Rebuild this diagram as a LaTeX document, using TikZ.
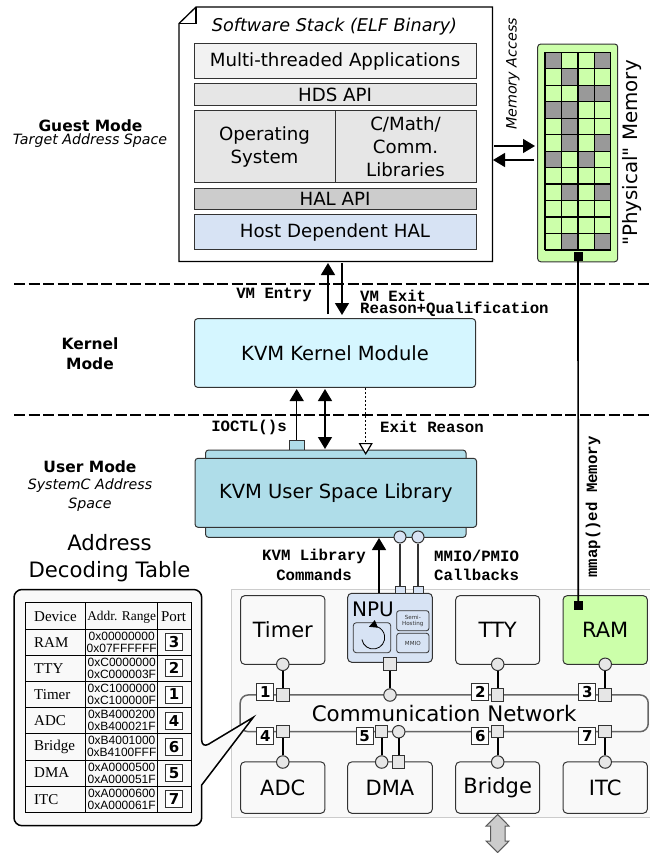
\documentclass[tikz,border=0pt]{standalone}
\usepackage{fontspec}
\setmainfont{DejaVu Sans}
\setmonofont{Liberation Mono}
\newfontfamily\plainfont{DejaVu Sans}
\newfontfamily\tablefont{Liberation Serif}
\newfontfamily\addrfont{Liberation Sans}
\usetikzlibrary{arrows.meta}
\definecolor{stackgrey}{HTML}{E6E6E6}
\definecolor{halgrey}{HTML}{CCCCCC}
\definecolor{appgrey}{HTML}{F2F2F2}
\definecolor{halblue}{HTML}{D7E3F4}
\definecolor{kernelblue}{HTML}{D5F6FF}
\definecolor{userblue}{HTML}{AFDDE9}
\definecolor{memgreen}{HTML}{CCFFAA}
\definecolor{memgrey}{HTML}{999999}
\definecolor{panelgrey}{HTML}{F9F9F9}
\definecolor{edgegrey}{HTML}{333333}
\newcommand{\bigfont}{\fontsize{18.2}{23}\selectfont}
\newcommand{\kvmfont}{\fontsize{19.5}{23}\selectfont}
\newcommand{\modfont}{\fontsize{21}{25}\selectfont}
\newcommand{\monofont}{\fontsize{15.7}{13}\selectfont\ttfamily\bfseries}
\tikzset{
  stackbox/.style={draw=edgegrey, line width=1pt, inner sep=0pt, font=\bigfont, align=center},
  modulebox/.style={draw=edgegrey, line width=1pt, rounded corners=4pt, inner sep=0pt, font=\modfont, fill=panelgrey},
  textlabel/.style={inner sep=0pt, align=center},
  monolabel/.style={inner sep=0pt, font=\monofont},
  portsquare/.style={draw=edgegrey, fill=stackgrey, line width=1pt, minimum size=12.5pt, inner sep=0pt},
  portcircle/.style={draw=edgegrey, fill=stackgrey, line width=1pt, circle, minimum size=12.5pt, inner sep=0pt},
  numbox/.style={draw=edgegrey, fill=white, line width=1pt, minimum size=17pt, inner sep=0pt, font=\fontsize{15}{15}\selectfont\bfseries},
  busline/.style={line width=1.6pt},
  bigarrow/.style={line width=1.3pt, -{Triangle[width=14pt,length=12pt]}},
  bothwayarrow/.style={line width=1.3pt, {Triangle[width=14pt,length=12pt]}-{Triangle[width=14pt,length=12pt]}},
  modedash/.style={line width=1.9pt, dash pattern=on 11pt off 3.5pt}
}
\begin{document}
\begin{tikzpicture}[x=1pt,y=-1pt]
\useasboundingbox (0,0) rectangle (649,853);
% MODE SEPARATORS
\coordinate (guest_left) at (14,284.3);
\coordinate (guest_right) at (649,284.3);
\coordinate (user_left) at (14,415);
\coordinate (user_right) at (649,415);
\draw[modedash] (guest_left) -- (guest_right);
\draw[modedash] (user_left) -- (user_right);
% TEXT
\node[textlabel, font=\fontsize{15.5}{15}\selectfont\bfseries] (guest_mode) at (90.5,126) {Guest Mode};
\node[textlabel, font=\fontsize{14.2}{14}\selectfont\itshape] (guest_space) at (90,141) {Target Address Space};
\node[textlabel, font=\fontsize{15.5}{19.5}\selectfont\bfseries] (kernel_mode) at (90,353.5) {Kernel\\Mode};
\node[textlabel, font=\fontsize{15.5}{15}\selectfont\bfseries] (user_mode) at (90,467) {User Mode};
\node[textlabel, font=\fontsize{14.2}{19}\selectfont\itshape] (user_space) at (90,495.5) {SystemC Address\\Space};
\node[textlabel, font=\fontsize{21.2}{27}\selectfont] (table_title) at (109.5,558.5) {Address\\Decoding Table};
\begin{scope} % Software stack
\draw[line width=1.3pt, fill=white]
(196,7) -- (492.5,7) -- (492.5,261.5) -- (179,261.5) -- (179,23.5) -- cycle;
\draw[line width=1.3pt] (179,23.5) -- (196,23.5) -- (196,7);
\node[textlabel, font=\fontsize{17.6}{18}\selectfont\itshape] (stack_title) at (334.5,27) {Software Stack (ELF Binary)};
\node[stackbox, fill=appgrey, minimum width=282pt, minimum height=35.5pt] (apps) at (335,61) {Multi-threaded Applications};
\node[stackbox, fill=stackgrey, minimum width=282pt, minimum height=22pt] (hds_api) at (335,94.5) {HDS API};
\node[stackbox, fill=stackgrey, minimum width=141pt, minimum height=72pt] (os) at (264.5,146.5) {Operating\\System};
\node[stackbox, fill=stackgrey, minimum width=141pt, minimum height=72pt] (libs) at (405.5,146.5) {C/Math/\\Comm.\\Libraries};
\node[stackbox, fill=halgrey, minimum width=282pt, minimum height=21pt] (hal_api) at (335,198.5) {HAL API};
\node[stackbox, fill=halblue, minimum width=282pt, minimum height=35.5pt] (host_hal) at (335,232) {Host Dependent HAL};
\end{scope}
\begin{scope} % Physical memory
\node[draw=edgegrey, line width=1pt, fill=memgreen, rounded corners=3pt, minimum width=80pt, minimum height=217.7pt, inner sep=0pt] (memory) at (577.7,152.9) {};
\foreach \r/\c in {0/0,0/3,1/1,2/2,2/3,3/0,3/1,4/1,5/1,5/3,6/0,6/2,8/1,8/3,11/1,11/3}
  \fill[memgrey] (545+16.45*\c,52.3+16.47*\r) rectangle (545+16.45*\c+16.45,52.3+16.47*\r+16.47);
\foreach \c in {0,...,4}
  \draw[line width=1.2pt] (545+16.45*\c,52.3) -- (545+16.45*\c,250);
\foreach \r in {0,...,12}
  \draw[line width=1.2pt] (545,52.3+16.47*\r) -- (610.8,52.3+16.47*\r);
\node[draw, fill=black, minimum size=8pt, inner sep=0pt] (mem_port) at (578,255.7) {};
\node[textlabel, rotate=90, font=\fontsize{19.8}{20}\selectfont\plainfont] (memory_label) at (632,153) {"Physical" Memory};
\node[textlabel, rotate=90, font=\fontsize{14.3}{14}\selectfont\itshape] (access_label) at (513,74) {Memory Access};
\end{scope}
% Memory access arrows
\coordinate (access_in_a) at (494,146);
\coordinate (access_in_b) at (535,146);
\coordinate (access_out_a) at (534,160);
\coordinate (access_out_b) at (493,160);
\draw[bigarrow] (access_in_a) -- (access_in_b);
\draw[bigarrow] (access_out_a) -- (access_out_b);
% KVM kernel
\node[draw=edgegrey, line width=1pt, fill=kernelblue, rounded corners=3pt, minimum width=281pt, minimum height=68.6pt, inner sep=0pt, font=\kvmfont] (kernel_module) at (335,353) {KVM Kernel Module};
\coordinate (entry_a) at (328,314);
\coordinate (entry_b) at (328,263);
\coordinate (exit_a) at (342,263);
\coordinate (exit_b) at (342,315);
\draw[bigarrow] (entry_a) -- (entry_b);
\draw[bigarrow] (exit_a) -- (exit_b);
\node[monolabel] (entry_label) at (274,295) {VM Entry};
\node[monolabel, anchor=west] (exit_label) at (360,295.5) {VM Exit};
\node[monolabel, anchor=west] (qualification_label) at (360,309.5) {Reason+Qualification};
\begin{scope} % KVM user space
\node[draw=edgegrey, line width=1pt, fill=userblue, minimum width=15pt, minimum height=10pt, inner sep=0pt] (ioctl_port) at (296.7,445.5) {};
\node[draw=edgegrey, line width=1pt, fill=userblue, rounded corners=3pt, minimum width=260.5pt, minimum height=87.3pt, inner sep=0pt] (user_back) at (335.8,493.7) {};
\node[draw=edgegrey, line width=1pt, fill=userblue, rounded corners=3pt, minimum width=281.5pt, minimum height=69pt, inner sep=0pt, font=\kvmfont] (user_lib) at (335.8,492.8) {KVM User Space Library};
\end{scope}
\coordinate (ioctl_top) at (296.7,389);
\coordinate (double_top) at (325,389);
\coordinate (double_bottom) at (325,449);
\coordinate (reason_top) at (365.7,388);
\coordinate (reason_bottom) at (365.7,455);
\draw[bigarrow] (ioctl_port) -- (ioctl_top);
\draw[bothwayarrow] (double_top) -- (double_bottom);
\draw[line width=1.2pt, dash pattern=on 2pt off 2pt, -{Triangle[open, fill=white, width=14pt, length=12pt]}] (reason_top) -- (reason_bottom);
\node[monolabel] (ioctl_label) at (249,427) {IOCTL()s};
\node[monolabel, anchor=west] (reason_label) at (380,427) {Exit Reason};
\node[monolabel, font=\monofont\fontsize{15.7}{20}\selectfont, align=center] (commands_label) at (314,565) {KVM Library\\Commands};
\node[monolabel, font=\monofont\fontsize{15.7}{19}\selectfont, anchor=west, align=left] (callbacks_label) at (434,565.5) {MMIO/PMIO\\Callbacks};
\begin{scope} % Platform
\draw[draw=halgrey, line width=1pt, fill=panelgrey] (231,589.7) rectangle (652,817.7);
\node[modulebox, minimum width=84.3pt, minimum height=68.6pt] (timer) at (282.8,630) {Timer};
\node[modulebox, fill=halblue, minimum width=84.6pt, minimum height=69pt] (npu) at (390,627.8) {};
\node[modulebox, minimum width=84pt, minimum height=68.6pt] (tty) at (497.7,630) {TTY};
\node[modulebox, fill=memgreen, minimum width=84.3pt, minimum height=68.6pt] (ram) at (605.2,630) {RAM};
\node[modulebox, minimum width=84.3pt, minimum height=51.3pt] (adc) at (282.8,787.6) {ADC};
\node[modulebox, minimum width=84.6pt, minimum height=51.3pt] (dma) at (390,787.6) {DMA};
\node[modulebox, minimum width=84pt, minimum height=51.3pt, text depth=4pt] (bridge) at (497.7,787.6) {Bridge};
\node[modulebox, minimum width=84.3pt, minimum height=51.3pt] (itc) at (605.2,787.6) {ITC};
\node[modulebox, draw=black!60, line width=1.5pt, rounded corners=8pt, minimum width=408pt, minimum height=36.7pt, font=\fontsize{21.4}{25}\selectfont] (network) at (444.2,713.3) {Communication Network};
\end{scope}
\begin{scope} % NPU inside
\node[textlabel, font=\fontsize{20}{20}\selectfont] (npu_label) at (373,609) {NPU};
\node[draw=edgegrey, line width=0.8pt, rounded corners=2.5pt, minimum width=32.3pt, minimum height=20pt, inner sep=0pt, align=center, font=\fontsize{5.6}{6.5}\selectfont, text=edgegrey] (semi_hosting) at (412.8,620.7) {Semi-\\Hosting};
\node[draw=edgegrey, line width=0.8pt, rounded corners=2.5pt, minimum width=32.3pt, minimum height=19.4pt, inner sep=0pt, font=\fontsize{5.6}{6.5}\selectfont, text=edgegrey] (mmio) at (412.8,643) {MMIO};
\node[draw=edgegrey, line width=0.8pt, rounded corners=3pt, minimum width=37.4pt, minimum height=30pt, inner sep=0pt] (core) at (372,637.7) {};
\draw[line width=0.8pt, -{Triangle[width=8pt,length=8pt]}] (361.9,639.5) arc[start angle=170, end angle=-112, radius=11.5];
\end{scope}
% KVM to NPU
\node[draw=edgegrey, line width=0.8pt, fill=halblue, minimum width=10pt, minimum height=6.5pt, inner sep=0pt] (mmio_in) at (400,590) {};
\node[draw=edgegrey, line width=0.8pt, fill=halblue, minimum width=10pt, minimum height=6.5pt, inner sep=0pt] (pmio_in) at (418,590) {};
\node[draw=edgegrey, line width=1pt, fill=halblue, circle, minimum size=12pt, inner sep=0pt] (mmio_out) at (400,537) {};
\node[draw=edgegrey, line width=1pt, fill=halblue, circle, minimum size=12pt, inner sep=0pt] (pmio_out) at (418,537) {};
\draw[line width=1.2pt, draw=edgegrey] (mmio_out) -- (mmio_in);
\draw[line width=1.2pt, draw=edgegrey] (pmio_out) -- (pmio_in);
\coordinate (commands_a) at (379,593);
\coordinate (commands_b) at (379,538);
\draw[bigarrow] (commands_a) -- (commands_b);
% mmap line
\node[draw, fill=black, minimum size=8pt, inner sep=0pt] (ram_port) at (578.3,605) {};
\draw[line width=1.7pt] (mem_port) -- (ram_port);
\node[monolabel, rotate=90] (mmap_label) at (593,507) {mmap()ed Memory};
% Bus ports, top row
\foreach \name/\xpos in {timer/282.8,tty/497.7,ram/605.2} {
  \node[portcircle] (\name_slave) at (\xpos,664.3) {};
  \node[portsquare] (\name_bus) at (\xpos,695) {};
  \draw[busline] (\name_slave) -- (\name_bus);
}
\node[portsquare] (npu_master) at (390,664) {};
\node[portcircle] (npu_bus) at (390,695) {};
\draw[busline] (npu_master) -- (npu_bus);
% Bus ports, bottom row
\foreach \name/\xpos in {adc/282.8,dma/381.7,bridge/497.7,itc/605.2} {
  \node[portcircle] (\name_slave) at (\xpos,762) {};
  \node[portsquare] (\name_bus) at (\xpos,731.7) {};
  \draw[busline] (\name_slave) -- (\name_bus);
}
\node[portsquare] (dma_master) at (398.7,762) {};
\node[portcircle] (dma_bus_master) at (398.7,731.7) {};
\draw[busline] (dma_master) -- (dma_bus_master);
% Port numbers
\node[numbox] (num_one) at (265.3,691.7) {1};
\node[numbox] (num_two) at (480.3,691.7) {2};
\node[numbox] (num_three) at (587.3,691.7) {3};
\node[numbox] (num_four) at (265.3,735.7) {4};
\node[numbox] (num_five) at (364.7,735.7) {5};
\node[numbox] (num_six) at (480.3,735.7) {6};
\node[numbox] (num_seven) at (587.3,735.7) {7};
% Bridge outlet
\draw[draw=black!65, line width=1pt, fill=halgrey]
(497.7,814.5) -- (509,826) -- (505,826) -- (505,841) -- (509,841) -- (497.7,852.5)
-- (486,841) -- (490.5,841) -- (490.5,826) -- (486,826) -- cycle;
\begin{scope} % Decoding table callout
\draw[line width=1.5pt, fill=panelgrey, rounded corners=8pt]
(100,589.5) -- (201.7,589.5) -- (201.7,748.3) [sharp corners] -- (253.3,717.3) -- (201.7,785) [rounded corners=8pt]
-- (201.7,825.7) -- (14,825.7) -- (14,589.5) -- cycle;
\draw[line width=0.9pt] (25,602.7) rectangle (191,812.3);
\draw[line width=0.9pt] (85.7,602.7) -- (85.7,812.3);
\draw[line width=0.9pt] (157.7,602.7) -- (157.7,812.3);
\node[textlabel, anchor=west, font=\fontsize{15}{14}\selectfont\tablefont] (head_device) at (34,617) {Device};
\node[textlabel, font=\fontsize{13.4}{12}\selectfont\tablefont] (head_range) at (121.7,617) {Addr. Range};
\node[textlabel, font=\fontsize{15}{14}\selectfont\tablefont] (head_port) at (173.5,617) {Port};
\foreach \i/\device/\low/\high/\portnum in {0/RAM/0x00000000/0x07FFFFFF/3,1/TTY/0xC0000000/0xC000003F/2,2/Timer/0xC1000000/0xC100000F/1,3/ADC/0xB4000200/0xB400021F/4,4/Bridge/0xB4001000/0xB4100FFF/6,5/DMA/0xA0000500/0xA000051F/5,6/ITC/0xA0000600/0xA000061F/7} {
  \pgfmathsetmacro\rowtop{629.2+26.15*\i}
  \pgfmathsetmacro\rowmid{\rowtop+13}
  \draw[line width=0.9pt] (25,\rowtop) -- (191,\rowtop);
  \node[textlabel, anchor=west, font=\fontsize{15}{14}\selectfont\tablefont] (device_\i) at (34,\rowmid) {\device};
  \node[textlabel, font=\fontsize{12}{12}\selectfont\addrfont] (range_\i) at (121.7,\rowmid) {\low\\\high};
  \node[numbox] (port_\i) at (174,\rowmid) {\portnum};
}
\end{scope}
\end{tikzpicture}
\end{document}
